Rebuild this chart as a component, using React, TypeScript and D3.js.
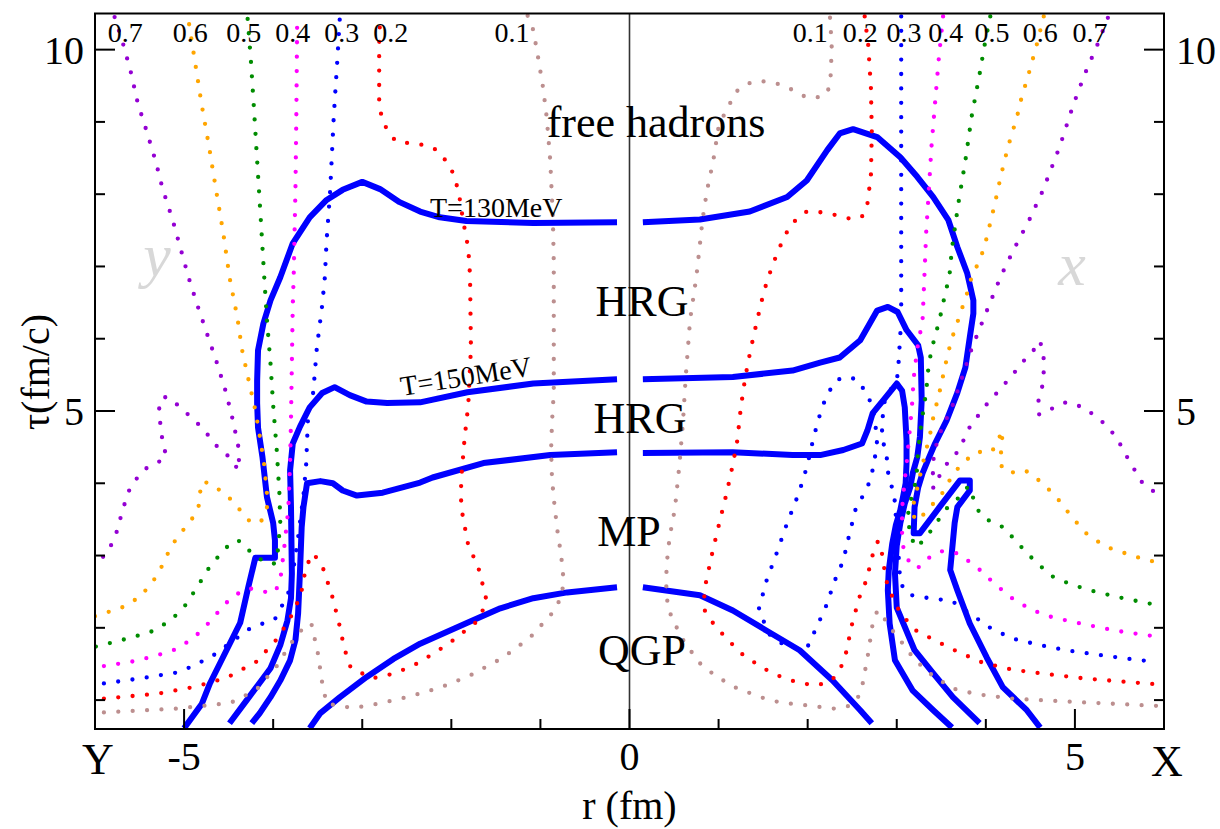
import React from "react";
import * as d3 from "d3";

type Pt = [number, number]; // [r (fm), tau (fm/c)]

// ---- Isotherms (thick blue). "Y" half is r < 0, "X" half is r > 0 ----
const isoOuterY: Pt[] = [[-5.0,0.61],[-4.80,0.95],[-4.71,1.23],[-4.37,2.07],[-4.28,2.56],[-4.20,2.97],[-3.98,2.97],[-3.98,3.21],[-4.00,3.45],[-4.07,3.81],[-4.12,4.36],[-4.17,4.77],[-4.18,5.11],[-4.18,5.42],[-4.17,5.84],[-4.11,6.21],[-4.03,6.53],[-3.92,6.85],[-3.78,7.32],[-3.59,7.68],[-3.40,7.92],[-3.22,8.06],[-3.00,8.17],[-2.80,8.07],[-2.58,7.89],[-2.35,7.76],[-2.13,7.68],[-1.83,7.63],[-1.08,7.60],[-0.14,7.61]];
const isoOuterX: Pt[] = [[0.15,7.61],[0.79,7.65],[1.35,7.76],[1.77,7.96],[1.99,8.19],[2.22,8.61],[2.36,8.84],[2.51,8.90],[2.78,8.79],[3.04,8.51],[3.23,8.24],[3.41,7.96],[3.58,7.64],[3.68,7.27],[3.79,6.91],[3.86,6.53],[3.86,6.35],[3.82,6.02],[3.77,5.60],[3.68,5.25],[3.56,4.87],[3.43,4.55],[3.35,4.32],[3.29,4.14],[3.24,3.94],[3.20,3.67],[3.19,3.31],[3.26,3.31],[3.48,3.67],[3.71,4.04],[3.82,4.04],[3.82,3.90],[3.68,3.67],[3.65,3.45],[3.60,2.80],[3.68,2.52],[3.82,2.06],[4.01,1.59],[4.19,1.18],[4.46,0.86],[4.61,0.62]];
const isoMidY: Pt[] = [[-4.49,0.68],[-4.29,1.01],[-4.03,1.44],[-3.92,1.76],[-3.84,2.10],[-3.80,2.41],[-3.79,2.75],[-3.80,3.67],[-3.81,4.18],[-3.78,4.55],[-3.70,4.78],[-3.59,5.05],[-3.45,5.25],[-3.31,5.33],[-3.14,5.22],[-2.95,5.13],[-2.72,5.11],[-2.35,5.12],[-1.82,5.26],[-1.08,5.38],[-0.14,5.44]];
const isoMidX: Pt[] = [[0.15,5.44],[1.16,5.47],[1.83,5.56],[2.14,5.67],[2.36,5.74],[2.59,5.98],[2.78,6.39],[2.90,6.44],[3.01,6.37],[3.11,6.12],[3.24,5.91],[3.27,5.74],[3.28,5.15],[3.26,4.64],[3.23,4.36],[3.18,4.14],[3.15,3.94],[3.09,3.72],[3.04,3.45],[3.00,3.14],[2.98,2.75],[3.00,2.28],[3.20,1.69],[3.41,1.37],[3.63,1.04],[3.93,0.68]];
const isoInnerY: Pt[] = [[-4.24,0.68],[-4.15,0.82],[-4.03,1.04],[-3.92,1.27],[-3.81,1.55],[-3.75,1.83],[-3.72,2.20],[-3.70,2.75],[-3.68,3.39],[-3.66,3.67],[-3.62,4.00],[-3.47,4.03],[-3.33,4.00],[-3.22,3.90],[-3.06,3.83],[-2.77,3.87],[-2.35,4.01],[-2.21,4.08],[-1.64,4.28],[-0.89,4.39],[-0.14,4.43]];
const isoInnerX: Pt[] = [[0.15,4.42],[1.16,4.43],[1.83,4.39],[2.14,4.39],[2.40,4.46],[2.61,4.55],[2.67,4.73],[2.73,4.97],[2.85,5.15],[3.00,5.38],[3.06,5.28],[3.09,5.05],[3.11,4.59],[3.11,4.28],[3.10,4.00],[3.07,3.81],[3.04,3.63],[2.99,3.42],[2.95,3.17],[2.91,2.79],[2.90,2.52],[2.92,2.06],[2.98,1.55],[3.18,1.13],[3.41,0.86],[3.62,0.62]];
const isoQgpY: Pt[] = [[-3.59,0.61],[-3.47,0.82],[-3.25,1.04],[-2.95,1.32],[-2.65,1.57],[-2.35,1.78],[-1.82,2.07],[-1.45,2.27],[-1.08,2.41],[-0.70,2.49],[-0.14,2.56]];
const isoQgpX: Pt[] = [[0.15,2.56],[0.79,2.45],[1.16,2.24],[1.54,1.96],[1.91,1.69],[2.28,1.27],[2.59,0.86],[2.72,0.68]];

// ---- Flow-velocity contours (dotted), Y half ----
const velY01: Pt[] = [[-5.90,0.83],[-5.10,0.88],[-4.48,0.96],[-4.19,1.14],[-3.96,1.47],[-3.81,1.77],[-3.63,2.05],[-3.57,2.05],[-3.50,1.66],[-3.45,1.24],[-3.40,0.95],[-3.10,0.89],[-2.82,0.95],[-2.50,1.04],[-2.13,1.17],[-1.79,1.34],[-1.43,1.58],[-1.12,1.86],[-0.84,2.24],[-0.76,2.45],[-0.74,2.66],[-0.77,3.04],[-0.80,3.25],[-0.84,3.67],[-0.87,4.06],[-0.88,4.46],[-0.87,4.84],[-0.85,5.26],[-0.85,7.06],[-0.86,7.67],[-0.89,8.47],[-0.93,9.07],[-0.97,9.47],[-1.02,9.85],[-1.08,10.27],[-1.15,10.49]];
const velY02: Pt[] = [[-5.90,1.02],[-5.29,1.09],[-4.89,1.18],[-4.52,1.31],[-4.19,1.53],[-3.96,1.84],[-3.81,2.13],[-3.69,2.45],[-3.63,2.85],[-3.55,3.03],[-3.45,2.86],[-3.34,2.45],[-3.26,2.06],[-3.20,1.71],[-3.13,1.45],[-2.89,1.30],[-2.63,1.37],[-2.36,1.52],[-2.03,1.78],[-1.73,2.07],[-1.60,2.34],[-1.62,2.46],[-1.70,2.85],[-1.81,3.14],[-1.89,3.67],[-1.89,4.04],[-1.85,4.64],[-1.81,5.08],[-1.78,5.87],[-1.79,6.87],[-1.81,7.25],[-1.87,7.65],[-1.92,8.05],[-2.00,8.35],[-2.06,8.46],[-2.16,8.61],[-2.30,8.68],[-2.50,8.71],[-2.62,8.73],[-2.71,8.86],[-2.78,9.05],[-2.81,9.26],[-2.81,10.06],[-2.80,10.46]];
const velY03: Pt[] = [[-5.90,1.23],[-5.49,1.30],[-5.09,1.38],[-4.90,1.47],[-4.67,1.62],[-4.45,1.82],[-4.25,2.00],[-4.09,2.07],[-3.98,2.12],[-3.92,2.26],[-3.84,2.45],[-3.80,2.59],[-3.72,3.25],[-3.66,3.83],[-3.63,4.25],[-3.61,4.87],[-3.55,5.26],[-3.51,5.87],[-3.45,6.46],[-3.42,6.85],[-3.40,7.36],[-3.36,8.05],[-3.32,9.07],[-3.28,9.85],[-3.25,10.48]];
const velY04: Pt[] = [[-5.90,1.47],[-5.55,1.54],[-5.30,1.62],[-5.10,1.70],[-4.90,1.85],[-4.73,2.06],[-4.56,2.30],[-4.46,2.43],[-4.28,2.55],[-4.11,2.50],[-3.98,2.49],[-3.92,2.66],[-3.88,3.06],[-3.83,3.64],[-3.81,4.28],[-3.80,4.87],[-3.79,5.66],[-3.78,6.46],[-3.77,6.85],[-3.75,8.05],[-3.74,9.07],[-3.73,10.48]];
const velY05: Pt[] = [[-5.99,1.74],[-5.70,1.83],[-5.38,1.94],[-5.15,2.10],[-4.98,2.32],[-4.83,2.61],[-4.71,2.85],[-4.55,3.08],[-4.45,3.20],[-4.37,3.20],[-4.27,3.07],[-4.18,2.98],[-4.07,2.89],[-3.98,2.89],[-3.95,3.04],[-3.92,3.45],[-3.93,3.86],[-3.96,4.46],[-4.00,5.08],[-4.03,5.66],[-4.07,6.26],[-4.10,6.85],[-4.14,7.67],[-4.18,8.47],[-4.21,9.07],[-4.25,9.85],[-4.29,10.48]];
const velY06: Pt[] = [[-6.00,2.16],[-5.70,2.28],[-5.49,2.43],[-5.34,2.66],[-5.25,2.85],[-5.17,3.06],[-5.08,3.25],[-4.93,3.47],[-4.84,3.65],[-4.82,3.86],[-4.81,4.01],[-4.74,4.01],[-4.63,3.93],[-4.52,3.83],[-4.43,3.72],[-4.36,3.61],[-4.26,3.47],[-4.14,3.46],[-4.07,3.65],[-4.07,3.86],[-4.10,4.25],[-4.15,4.65],[-4.20,5.01],[-4.28,5.45],[-4.35,5.85],[-4.40,6.28],[-4.46,6.66],[-4.49,6.85],[-4.56,7.46],[-4.64,8.05],[-4.72,8.66],[-4.80,9.22],[-4.88,9.85],[-4.96,10.48]];
const velY07: Pt[] = [[-5.78,10.45],[-5.68,10.06],[-5.60,9.70],[-5.52,9.26],[-5.42,8.87],[-5.32,8.46],[-5.24,8.07],[-5.13,7.65],[-5.04,7.25],[-4.95,6.85],[-4.85,6.46],[-4.74,6.06],[-4.63,5.66],[-4.53,5.26],[-4.45,4.86],[-4.38,4.44],[-4.39,4.18],[-4.48,4.35],[-4.63,4.51],[-4.74,4.68],[-4.85,4.83],[-4.98,4.98],[-5.07,5.08],[-5.17,5.19],[-5.24,5.19],[-5.28,5.05],[-5.27,4.86],[-5.25,4.65],[-5.20,4.36],[-5.28,4.30],[-5.45,4.19],[-5.60,3.96],[-5.68,3.67],[-5.77,3.27],[-5.86,3.04],[-5.97,2.91]];

// ---- Flow-velocity contours (dotted), X half ----
const velX01: Pt[] = [[5.91,0.92],[5.41,0.95],[4.90,0.98],[4.30,1.02],[3.90,1.08],[3.63,1.16],[3.40,1.34],[3.20,1.56],[3.05,1.81],[2.89,2.06],[2.82,2.23],[2.78,2.23],[2.73,2.06],[2.68,1.65],[2.62,1.24],[2.56,1.02],[2.47,0.92],[2.31,0.88],[2.10,0.91],[1.91,0.94],[1.71,0.96],[1.50,1.03],[1.21,1.16],[0.97,1.33],[0.78,1.52],[0.58,1.87],[0.43,2.27],[0.41,2.64],[0.42,2.91],[0.45,3.25],[0.51,3.65],[0.56,4.25],[0.60,4.84],[0.63,5.45],[0.68,6.26],[0.75,6.85],[0.79,7.30],[0.82,7.65],[0.87,8.05],[0.94,8.46],[1.00,8.93],[1.05,9.07],[1.13,9.26],[1.18,9.40],[1.27,9.49],[1.39,9.56],[1.51,9.56],[1.69,9.52],[1.89,9.41],[1.98,9.34],[2.10,9.34],[2.19,9.36],[2.23,9.44],[2.26,9.66],[2.27,10.06],[2.25,10.46]];
const velX02: Pt[] = [[2.64,10.46],[2.68,10.06],[2.71,9.47],[2.72,8.86],[2.71,8.26],[2.67,7.86],[2.62,7.70],[2.51,7.65],[2.32,7.71],[2.10,7.76],[1.99,7.76],[1.89,7.67],[1.80,7.56],[1.68,7.25],[1.60,7.00],[1.51,6.66],[1.43,6.24],[1.36,5.85],[1.30,5.47],[1.25,5.05],[1.21,4.59],[1.16,4.26],[1.09,3.86],[1.02,3.51],[0.97,3.25],[0.93,3.04],[0.86,2.64],[0.84,2.45],[0.84,2.25],[0.94,2.06],[1.09,1.85],[1.27,1.63],[1.50,1.44],[1.72,1.31],[1.90,1.24],[2.10,1.20],[2.27,1.27],[2.37,1.44],[2.43,1.65],[2.50,2.06],[2.58,2.42],[2.66,2.66],[2.74,3.06],[2.79,3.20],[2.83,3.06],[2.88,2.66],[2.94,2.46],[3.04,2.20],[3.22,1.96],[3.47,1.80],[3.70,1.66],[3.96,1.52],[4.30,1.42],[4.68,1.36],[5.10,1.30],[5.49,1.26],[5.90,1.22]];
const velX03: Pt[] = [[3.05,10.46],[3.05,9.30],[3.05,7.92],[3.05,6.26],[3.02,5.66],[3.01,5.49],[2.85,5.09],[2.83,4.61],[2.88,4.46],[2.91,4.06],[2.97,3.87],[3.01,3.21],[3.04,2.62],[3.13,2.46],[3.31,2.42],[3.62,2.37],[3.83,2.19],[4.06,1.99],[4.30,1.85],[4.61,1.76],[4.90,1.69],[5.30,1.62],[5.67,1.56],[5.90,1.53]];
const velX03Island: Pt[] = [[2.51,5.45],[2.61,5.37],[2.63,5.26],[2.73,5.09],[2.78,4.61],[2.77,4.46],[2.71,4.06],[2.64,3.87],[2.54,3.65],[2.46,3.25],[2.40,2.93],[2.30,2.64],[2.21,2.31],[2.12,2.06],[2.00,1.74],[1.90,1.73],[1.77,1.73],[1.57,1.91],[1.45,2.25],[1.54,2.66],[1.66,3.06],[1.77,3.45],[1.90,3.86],[1.99,4.22],[2.07,4.65],[2.16,5.05],[2.24,5.27],[2.34,5.44],[2.51,5.45]];
const velX04: Pt[] = [[3.52,10.46],[3.47,9.85],[3.43,9.26],[3.39,8.66],[3.36,8.05],[3.33,7.46],[3.31,6.85],[3.29,6.26],[3.23,5.86],[3.19,5.45],[3.17,5.05],[3.14,4.65],[3.11,4.26],[3.09,4.05],[3.06,3.65],[3.06,3.25],[3.08,3.06],[3.17,2.84],[3.26,2.84],[3.38,2.99],[3.51,3.06],[3.68,3.03],[3.89,2.85],[4.08,2.63],[4.28,2.42],[4.51,2.25],[4.76,2.14],[5.10,2.05],[5.46,1.96],[5.91,1.88]];
const velX05: Pt[] = [[4.05,10.46],[3.99,10.09],[3.93,9.66],[3.84,9.07],[3.77,8.46],[3.69,7.86],[3.62,7.25],[3.59,6.85],[3.55,6.66],[3.48,6.26],[3.41,5.94],[3.36,5.66],[3.33,5.26],[3.28,4.86],[3.24,4.46],[3.22,4.06],[3.18,3.86],[3.13,3.65],[3.13,3.46],[3.16,3.25],[3.22,3.11],[3.33,3.25],[3.45,3.46],[3.55,3.64],[3.66,3.76],[3.75,3.86],[3.80,3.96],[3.84,3.86],[3.90,3.65],[3.97,3.53],[4.10,3.44],[4.22,3.38],[4.30,3.25],[4.39,3.13],[4.56,2.91],[4.75,2.71],[4.90,2.63],[5.13,2.53],[5.50,2.42],[5.90,2.32]];
const velX06: Pt[] = [[4.65,10.46],[4.57,10.06],[4.48,9.66],[4.40,9.33],[4.35,9.07],[4.25,8.66],[4.17,8.26],[4.10,7.86],[4.02,7.45],[3.98,7.25],[3.92,7.06],[3.84,6.85],[3.79,6.63],[3.69,6.26],[3.61,5.97],[3.55,5.66],[3.48,5.26],[3.41,4.91],[3.37,4.65],[3.33,4.46],[3.29,4.26],[3.23,3.93],[3.18,3.67],[3.20,3.49],[3.24,3.49],[3.34,3.62],[3.51,3.86],[3.63,4.12],[3.74,4.28],[3.89,4.43],[4.07,4.44],[4.19,4.73],[4.16,4.26],[4.25,4.14],[4.44,4.18],[4.64,4.00],[4.81,3.78],[4.98,3.51],[5.14,3.29],[5.35,3.12],[5.69,2.98],[5.90,2.91]];
const velX07: Pt[] = [[5.37,10.44],[5.25,10.06],[5.11,9.66],[4.98,9.23],[4.83,8.66],[4.64,8.05],[4.49,7.65],[4.32,7.25],[4.17,6.87],[3.97,6.26],[3.84,5.86],[3.73,5.45],[3.62,5.05],[3.55,4.87],[3.47,4.65],[3.44,4.51],[3.40,4.25],[3.41,4.06],[3.41,3.93],[3.46,4.06],[3.55,4.25],[3.70,4.46],[3.81,4.76],[3.98,5.05],[4.13,5.26],[4.28,5.47],[4.45,5.73],[4.55,5.86],[4.61,5.97],[4.66,5.66],[4.63,5.31],[4.57,5.05],[4.60,4.95],[4.72,5.02],[4.90,5.12],[5.10,5.05],[5.30,4.86],[5.46,4.65],[5.60,4.33],[5.75,4.02],[5.88,3.89]];

// Contour values printed along the top edge, with their r positions
const velValues = ["0.7", "0.6", "0.5", "0.4", "0.3", "0.2", "0.1"];
const velLabelRY = [-5.66, -4.93, -4.33, -3.78, -3.23, -2.68, -1.32];
const velLabelRX = [5.17, 4.61, 4.07, 3.55, 3.08, 2.59, 2.03];

// Axis ticks
const xMinorTicks = [-5, -4, -3, -2, -1, 0, 1, 2, 3, 4, 5];
const xMajorTicks = [-5, 0, 5];
const yMinorTicks = [1, 2, 3, 4, 5, 6, 7, 8, 9, 10];
const yMajorTicks = [5, 10];

const palette: Record<string, string> = {
  "0.1": "#bc8f8f",
  "0.2": "#ff0000",
  "0.3": "#0000ff",
  "0.4": "#ff00ff",
  "0.5": "#008c00",
  "0.6": "#ffa500",
  "0.7": "#9400d3",
};

const dotted: { v: string; pts: Pt[] }[] = [
  { v: "0.1", pts: velY01 }, { v: "0.2", pts: velY02 }, { v: "0.3", pts: velY03 },
  { v: "0.4", pts: velY04 }, { v: "0.5", pts: velY05 }, { v: "0.6", pts: velY06 },
  { v: "0.7", pts: velY07 },
  { v: "0.1", pts: velX01 }, { v: "0.2", pts: velX02 }, { v: "0.3", pts: velX03 },
  { v: "0.3", pts: velX03Island }, { v: "0.4", pts: velX04 }, { v: "0.5", pts: velX05 },
  { v: "0.6", pts: velX06 }, { v: "0.7", pts: velX07 },
];

const isotherms: Pt[][] = [isoOuterY, isoOuterX, isoMidY, isoMidX, isoInnerY, isoInnerX, isoQgpY, isoQgpX];

const W = 1220;
const H = 829;
const L = 95, R = 1164, T = 13.5, B = 729;
const serif = "'Liberation Serif', 'DejaVu Serif', serif";

export default function App() {
  const x = d3.scaleLinear().domain([-6, 6]).range([L, R]);
  const y = d3.scaleLinear().domain([0.6, 10.5]).range([B, T]);
  const line = d3.line<Pt>().x((d) => x(d[0])).y((d) => y(d[1]));

  return (
    <svg
      width={W}
      height={H}
      viewBox={`0 0 ${W} ${H}`}
      style={{ position: "absolute", left: 0, top: 0, background: "#fff" }}
      fontFamily={serif}
    >
      <defs>
        <clipPath id="plotArea">
          <rect x={L} y={T} width={R - L} height={B - T} />
        </clipPath>
      </defs>

      {/* r = 0 divider */}
      <line x1={x(0)} x2={x(0)} y1={T} y2={B} stroke="#333" strokeWidth={1.6} />

      <g clipPath="url(#plotArea)">
        {isotherms.map((pts, i) => (
          <path key={`iso${i}`} d={line(pts) ?? ""} fill="none" stroke="#0000ff" strokeWidth={6} strokeLinejoin="round" />
        ))}
        {dotted.map((c, i) => (
          <path
            key={`vel${i}`}
            d={line(c.pts) ?? ""}
            fill="none"
            stroke={palette[c.v]}
            strokeWidth={4.3}
            strokeLinecap="round"
            strokeDasharray="0 14.4"
          />
        ))}
      </g>

      {/* frame */}
      <rect x={L} y={T} width={R - L} height={B - T} fill="none" stroke="#000" strokeWidth={2} />

      {/* ticks */}
      {xMinorTicks.map((t) => {
        const len = xMajorTicks.includes(t) ? 20 : 10;
        return <line key={`xt${t}`} x1={x(t)} x2={x(t)} y1={B} y2={B - len} stroke="#000" strokeWidth={2} />;
      })}
      {yMinorTicks.map((t) => {
        const len = yMajorTicks.includes(t) ? 20 : 10;
        return (
          <g key={`yt${t}`}>
            <line x1={L} x2={L + len} y1={y(t)} y2={y(t)} stroke="#000" strokeWidth={2} />
            <line x1={R} x2={R - len} y1={y(t)} y2={y(t)} stroke="#000" strokeWidth={2} />
          </g>
        );
      })}

      {/* tick labels */}
      {xMajorTicks.map((t) => (
        <text key={`xl${t}`} x={x(t)} y={770} fontSize={40} textAnchor="middle">
          {t}
        </text>
      ))}
      {yMajorTicks.map((t) => (
        <g key={`yl${t}`}>
          <text x={L - 11} y={y(t) + 14} fontSize={40} textAnchor="end">{t}</text>
          <text x={R + 12} y={y(t) + 14} fontSize={40} textAnchor="start">{t}</text>
        </g>
      ))}
      <text x={x(-6) + 3} y={774} fontSize={44} textAnchor="middle">Y</text>
      <text x={x(6) + 3} y={776} fontSize={44} textAnchor="middle">X</text>

      {/* axis titles */}
      <text x={x(0)} y={819} fontSize={40} textAnchor="middle">r (fm)</text>
      <text transform={`translate(49, ${372}) rotate(-90)`} fontSize={40} textAnchor="middle">
        τ(fm/c)
      </text>

      {/* contour value labels */}
      {velValues.map((v, i) => (
        <g key={`vv${v}`}>
          <text x={x(velLabelRY[i])} y={42} fontSize={28} textAnchor="middle">{v}</text>
          <text x={x(velLabelRX[i])} y={42} fontSize={28} textAnchor="middle">{v}</text>
        </g>
      ))}

      {/* direction markers */}
      <text x={157} y={276} fontSize={62} fontStyle="italic" fill="#d8d8d8" textAnchor="middle">y</text>
      <text x={1072} y={285} fontSize={62} fontStyle="italic" fill="#d8d8d8" textAnchor="middle">x</text>

      {/* phase labels */}
      <text x={656} y={137} fontSize={44} textAnchor="middle">free hadrons</text>
      <text x={642} y={316} fontSize={44} textAnchor="middle">HRG</text>
      <text x={640} y={433} fontSize={44} textAnchor="middle">HRG</text>
      <text x={629} y={546} fontSize={44} textAnchor="middle">MP</text>
      <text x={642} y={665} fontSize={44} textAnchor="middle">QGP</text>

      {/* isotherm labels */}
      <text x={430} y={217} fontSize={28}>T=130MeV</text>
      <text transform="translate(402, 396) rotate(-9)" fontSize={28}>T=150MeV</text>
    </svg>
  );
}
